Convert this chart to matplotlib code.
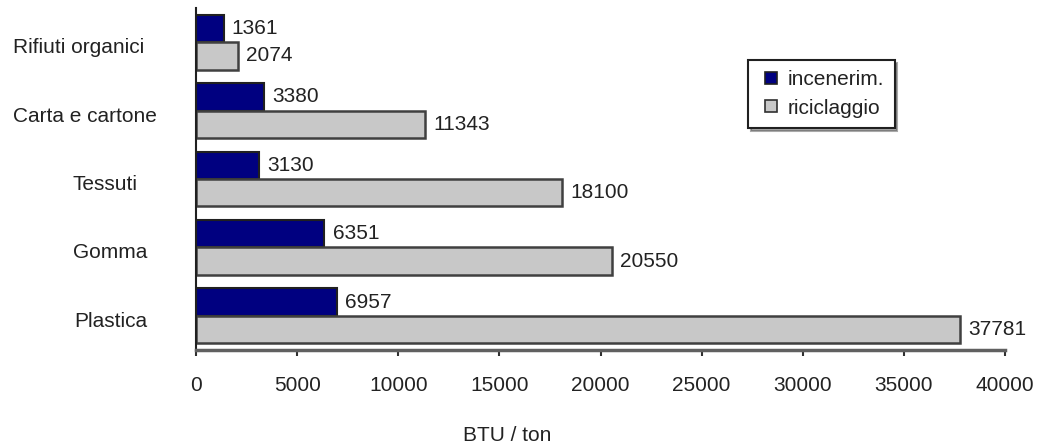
import matplotlib
matplotlib.use('Agg')
import matplotlib.pyplot as plt
import matplotlib.transforms as mtransforms
from matplotlib.lines import Line2D
import numpy as np

plt.rcParams['font.family'] = ['Liberation Sans', 'DejaVu Sans']

# dati (dal basso verso l'alto)
categorie = ['Plastica', 'Gomma', 'Tessuti', 'Carta e cartone', 'Rifiuti organici']
incenerim = [6957, 6351, 3130, 3380, 1361]
riciclaggio = [37781, 20550, 18100, 11343, 2074]

# centro orizzontale (px) delle etichette delle categorie
centri_etichette = [111, 110, 105, 85, 79]

FS = 15
TXT = '#222222'

fig = plt.figure(figsize=(10.39, 4.48), dpi=100)
ax = fig.add_axes([196 / 1039, 1 - 350 / 448, (1005 - 196) / 1039, 342 / 448])

y = np.arange(len(categorie))
h = 0.4
b1 = ax.barh(y + h / 2, incenerim, height=h, color='#000080', edgecolor='#202020',
             linewidth=1.5)
b2 = ax.barh(y - h / 2, riciclaggio, height=h, color='#c8c8c8', edgecolor='#404040',
             linewidth=1.8)

for bars, vals in ((b1, incenerim), (b2, riciclaggio)):
    for r, v in zip(bars, vals):
        ax.annotate(str(v), (v, r.get_y() + r.get_height() / 2), xytext=(6, 0),
                    textcoords='offset points', va='center', ha='left',
                    fontsize=FS, color=TXT)

ax.set_xlim(0, 40000)
ax.set_ylim(-0.5, 4.5)
ax.set_xticks(range(0, 40001, 5000))
ax.set_yticks([])
ax.tick_params(axis='x', length=4.5, width=1.5, color='#303030', pad=14,
               labelsize=FS, labelcolor=TXT)

# etichette delle categorie
trans = mtransforms.blended_transform_factory(fig.transFigure, ax.transData)
for yi, lab, cx in zip(y, categorie, centri_etichette):
    ax.text(cx / 1039, yi - 0.08, lab, transform=trans, ha='center', va='center',
            fontsize=FS, color=TXT)

for s in ('top', 'right'):
    ax.spines[s].set_visible(False)
ax.spines['left'].set_color('#202020')
ax.spines['left'].set_linewidth(1.5)
ax.spines['bottom'].set_color('#606060')
ax.spines['bottom'].set_linewidth(2.5)

fig.text(507 / 1039, 1 - 435 / 448, 'BTU / ton', ha='center', va='center',
         fontsize=FS, color=TXT)

handles = [Line2D([], [], linestyle='none', marker='s', markersize=9,
                  markerfacecolor='#000080', markeredgecolor='#202020', markeredgewidth=1.2),
           Line2D([], [], linestyle='none', marker='s', markersize=9,
                  markerfacecolor='#c8c8c8', markeredgecolor='#303030', markeredgewidth=1.2)]
leg = ax.legend(handles, ['incenerim.', 'riciclaggio'], loc='upper left',
                bbox_to_anchor=(748 / 1039, 1 - 60 / 448), bbox_transform=fig.transFigure,
                borderaxespad=0, frameon=True, fancybox=False, shadow={'color': '#555555'},
                edgecolor='#202020', fontsize=FS, handlelength=1.2, handletextpad=0.2,
                borderpad=0.5, labelspacing=0.45)
leg.get_frame().set_linewidth(1.5)
for t in leg.get_texts():
    t.set_color(TXT)

fig.savefig('out.png', dpi=100)
